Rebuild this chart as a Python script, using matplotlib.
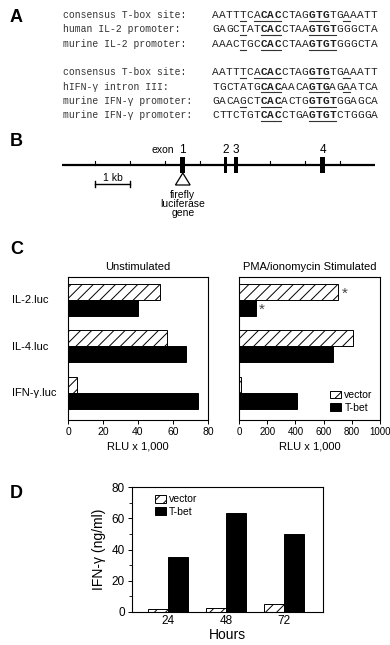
import numpy as np
import matplotlib
matplotlib.use("Agg")
import matplotlib.pyplot as plt
from matplotlib.patches import Polygon

plt.rcParams['font.family'] = ['Liberation Sans', 'DejaVu Sans']
plt.rcParams['hatch.linewidth'] = 0.7

W, H = 390, 645

# panel A
seq_labels = ['consensus T-box site:', 'human IL-2 promoter:', 'murine IL-2 promoter:',
              'consensus T-box site:', 'hIFN-γ intron III:', 'murine IFN-γ promoter:',
              'murine IFN-γ promoter:']
seqs = ['AATTTCACACCTAGGTGTGAAATT',
        'GAGCTATCACCTAAGTGTGGGCTA',
        'AAACTGCCACCTAAGTGTGGGCTA',
        'AATTTCACACCTAGGTGTGAAATT',
        'TGCTATGCACAACAGTGAGAATCA',
        'GACAGCTCACACTGGTGTGGAGCA',
        'CTTCTGTCACCTGAGTGTCTGGGA']
underlined = [[4, 6, 7, 8, 9, 14, 15, 16, 19],
              [4, 7, 8, 9, 14, 15, 16, 17],
              [4, 7, 8, 9, 14, 15, 16, 17],
              [4, 6, 7, 8, 9, 14, 15, 16, 19],
              [7, 8, 9, 14, 15, 16, 19],
              [4, 7, 8, 9, 14, 15, 16, 17],
              [7, 8, 9, 14, 15, 16, 17]]
bold = [[7, 8, 9, 14, 15, 16],
        [7, 8, 9, 14, 15, 16, 17],
        [7, 8, 9, 14, 15, 16, 17],
        [7, 8, 9, 14, 15, 16],
        [7, 8, 9, 14, 15, 16],
        [7, 8, 9, 14, 15, 16, 17],
        [7, 8, 9, 14, 15, 16, 17]]

# panel B (kb)
exon_names = ['1', '2', '3', '4']
exon_pos = [2.51, 3.74, 4.03, 6.51]

# panel C
constructs = ['IL-2.luc', 'IL-4.luc', 'IFN-γ.luc']
unstim_vector = [52.5, 56.5, 5]
unstim_tbet = [40, 67.5, 74.5]
stim_vector = [705, 810, 14]
stim_tbet = [118, 668, 412]

# panel D
hours = ['24', '48', '72']
ifng_vector = [1.8, 2.8, 5]
ifng_tbet = [35.2, 63.5, 50]


def box(l, t, r, b):
    return [l / W, 1 - b / H, (r - l) / W, (b - t) / H]


fig = plt.figure(figsize=(3.9, 6.45), dpi=100)
ov = fig.add_axes([0, 0, 1, 1])
ov.set_xlim(0, W)
ov.set_ylim(H, 0)
ov.axis('off')

for lab, y in zip('ABCD', [18, 141, 250, 494]):
    ov.text(10, y, lab, fontsize=13, fontweight='bold', va='center')

# --- A: sequence alignments
rows_y = [15, 29.5, 44, 72, 86.5, 101, 115.5]
cw = 6.9
for y, lab, s, ul, bd in zip(rows_y, seq_labels, seqs, underlined, bold):
    ov.text(63, y, lab, fontsize=7, family='Liberation Mono', va='center', color='#333333')
    for i, ch in enumerate(s):
        x = 212 + i * cw
        ov.text(x + cw / 2, y, ch, fontsize=8, family='Liberation Mono', ha='center', va='center',
                fontweight='bold' if i in bd else 'normal', color='#222222')
        if i in ul:
            ov.plot([x + 0.3, x + cw - 0.3], [y + 5.5, y + 5.5], color='#333333', lw=0.8)

# --- B: gene map
axb = fig.add_axes(box(62, 140, 375, 218))
axb.set_xlim(-0.94, 8.0)
axb.set_ylim(218, 140)
axb.axis('off')
axb.plot([-0.94, 8.0], [165, 165], color='black', lw=1.6)
for t in [0, 1, 2, 3, 4, 5, 6, 7]:
    axb.plot([t, t], [165, 161], color='black', lw=0.8)
for name, p in zip(exon_names, exon_pos):
    w = 0.14 if name in ('1', '4') else 0.09
    axb.fill_between([p - w / 2, p + w / 2], 157, 173, color='black', lw=0)
    axb.text(p, 150, name, ha='center', va='center', fontsize=8.5)
axb.text(exon_pos[0] - 0.25, 150, 'exon', ha='right', va='center', fontsize=7.5)
axb.plot([0, 1], [184, 184], color='black', lw=1)
axb.plot([0, 0], [181, 187], color='black', lw=1)
axb.plot([1, 1], [181, 187], color='black', lw=1)
axb.text(0.5, 177.5, '1 kb', ha='center', va='center', fontsize=7.5)
axb.add_patch(Polygon([[exon_pos[0], 173], [exon_pos[0] - 0.21, 185], [exon_pos[0] + 0.21, 185]],
                      closed=True, fill=False, ec='black', lw=0.9))
for txt, y in zip(['firefly', 'luciferase', 'gene'], [194.5, 203.5, 212.5]):
    axb.text(exon_pos[0], y, txt, ha='center', va='center', fontsize=7.5)

# --- C: luciferase assays
ypos = np.arange(len(constructs))
bh = 0.345
axl = fig.add_axes(box(68, 277, 208, 420))
axr = fig.add_axes(box(239, 277, 380, 420))
for ax, vec, tb, xmax, title in [(axl, unstim_vector, unstim_tbet, 80, 'Unstimulated'),
                                 (axr, stim_vector, stim_tbet, 1000, 'PMA/ionomycin Stimulated')]:
    ax.barh(ypos - bh / 2, vec, height=bh, color='white', edgecolor='black', hatch='///', lw=0.7,
            label='vector')
    ax.barh(ypos + bh / 2, tb, height=bh, color='black', edgecolor='black', lw=0.7, label='T-bet')
    ax.set_xlim(0, xmax)
    ax.set_ylim(2.58, -0.49)
    ax.set_yticks([])
    ax.set_xticks(np.linspace(0, xmax, 5 if xmax == 80 else 6))
    ax.tick_params(axis='x', labelsize=7.5 if xmax == 80 else 7, length=3, width=0.7, pad=2)
    ax.set_title(title, fontsize=8, pad=5)
    ax.set_xlabel('RLU x 1,000', fontsize=8, labelpad=3)
    for sp in ax.spines.values():
        sp.set_linewidth(0.8)
for lab, y in zip(constructs, ypos):
    ov.text(12, 300 + y * 46.5, lab, fontsize=8, va='center')
axr.text(stim_vector[0] + 25, -bh / 2 + 0.05, '*', fontsize=11, va='center', color='#444444')
axr.text(stim_tbet[0] + 25, bh / 2 + 0.05, '*', fontsize=11, va='center', color='#444444')
axr.legend(loc='lower right', fontsize=7.5, frameon=False, handlelength=1.1, handleheight=0.8,
           handletextpad=0.3, borderaxespad=0.3, labelspacing=0.25)

# --- D: IFN-gamma production
axd = fig.add_axes(box(132, 487, 323, 612))
xpos = np.arange(len(hours))
bw = 0.345
axd.bar(xpos - bw / 2, ifng_vector, width=bw, color='white', edgecolor='black', hatch='///', lw=0.7,
        label='vector')
axd.bar(xpos + bw / 2, ifng_tbet, width=bw, color='black', edgecolor='black', lw=0.7, label='T-bet')
axd.set_xlim(-0.62, 2.67)
axd.set_ylim(0, 80)
axd.set_xticks(xpos)
axd.set_xticklabels(hours)
axd.set_yticks([0, 20, 40, 60, 80])
axd.set_yticks(np.arange(10, 80, 20), minor=True)
axd.tick_params(axis='both', labelsize=8.5, length=3, width=0.7, pad=2)
axd.tick_params(axis='x', length=0)
axd.tick_params(which='minor', length=2, width=0.6)
axd.set_xlabel('Hours', fontsize=10, labelpad=1)
axd.set_ylabel('IFN-γ (ng/ml)', fontsize=10, labelpad=4)
for sp in axd.spines.values():
    sp.set_linewidth(0.8)
axd.legend(loc='upper left', fontsize=7.5, frameon=False, handlelength=1.1, handleheight=0.8,
           handletextpad=0.3, borderaxespad=0.3, labelspacing=0.25, bbox_to_anchor=(0.08, 1.0))

fig.savefig('out.png', dpi=100)
